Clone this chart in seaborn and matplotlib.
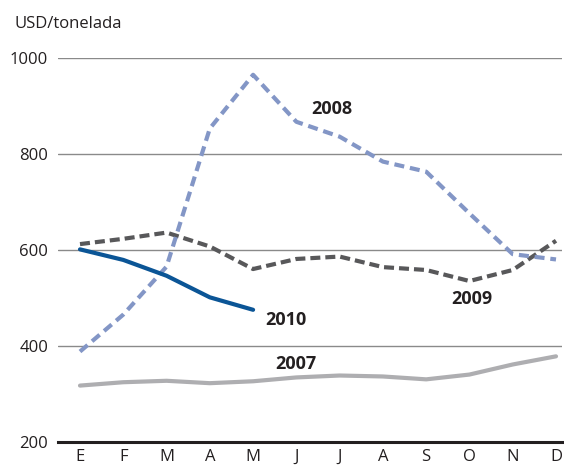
import pandas as pd
import seaborn as sns
import matplotlib.pyplot as plt

# Datos (USD/tonelada por mes)
meses = ["E", "F", "M", "A", "M", "J", "J", "A", "S", "O", "N", "D"]
v2007 = [317, 324, 327, 322, 326, 334, 338, 336, 330, 340, 361, 378]
v2008 = [388, 465, 565, 853, 965, 867, 836, 784, 763, 676, 591, 580]
v2009 = [612, 623, 636, 607, 560, 581, 586, 564, 558, 535, 558, 619]
v2010 = [601, 579, 546, 501, 475]
yticks = [200, 400, 600, 800, 1000]

series = {"2007": v2007, "2008": v2008, "2009": v2009, "2010": v2010}
rows = []
for anio, vals in series.items():
    for i, v in enumerate(vals):
        rows.append({"mes": i, "valor": v, "anio": anio})
df = pd.DataFrame(rows)

sns.set_style("white")
plt.rcParams["font.family"] = ["Open Sans", "DejaVu Sans"]

fig = plt.figure(figsize=(5.64, 4.69), dpi=100)
ax = fig.add_axes([58 / 564, 27.3 / 469, 504 / 564, 383.7 / 469])

paleta = {"2007": "#aeaeb1", "2008": "#8396c6", "2009": "#58585a", "2010": "#0b5596"}
estilos = {"2007": "", "2008": (2.4, 1.4), "2009": (2.4, 1.2), "2010": ""}
for y in yticks[1:]:
    ax.axhline(y, color="#8a8a8a", lw=1, zorder=0)

sns.lineplot(data=df, x="mes", y="valor", hue="anio", style="anio",
             palette=paleta, dashes=estilos, lw=3, legend=False, ax=ax,
             hue_order=["2007", "2009", "2008", "2010"])

# Etiquetas de las series
etiquetas = [("2008", 5.82, 894), ("2009", 9.05, 498), ("2010", 4.75, 454), ("2007", 5.0, 362)]
for txt, x, y in etiquetas:
    ax.text(x, y, txt, fontsize=13, fontweight="bold", color="#231f20",
            ha="center", va="center")

ax.set_xlim(-22 / 43.27, 11 + 6 / 43.27)
ax.set_ylim(200, 1000)
ax.set_xticks(range(12))
ax.set_xticklabels(meses)
ax.set_yticks(yticks)
ax.set_xlabel("")
ax.set_ylabel("")
for s in ["top", "right", "left"]:
    ax.spines[s].set_visible(False)
ax.spines["bottom"].set_color("#231f20")
ax.spines["bottom"].set_linewidth(2.2)
ax.tick_params(axis="x", direction="in", length=7, width=1.6, color="#231f20",
               labelsize=12, labelcolor="#231f20", pad=5)
ax.tick_params(axis="y", length=0, labelsize=12, labelcolor="#231f20", pad=7)
ax.grid(False)

fig.text(14 / 564, 1 - 24 / 469, "USD/tonelada", fontsize=12, color="#231f20",
         ha="left", va="center")

fig.savefig("out.png", dpi=100)
